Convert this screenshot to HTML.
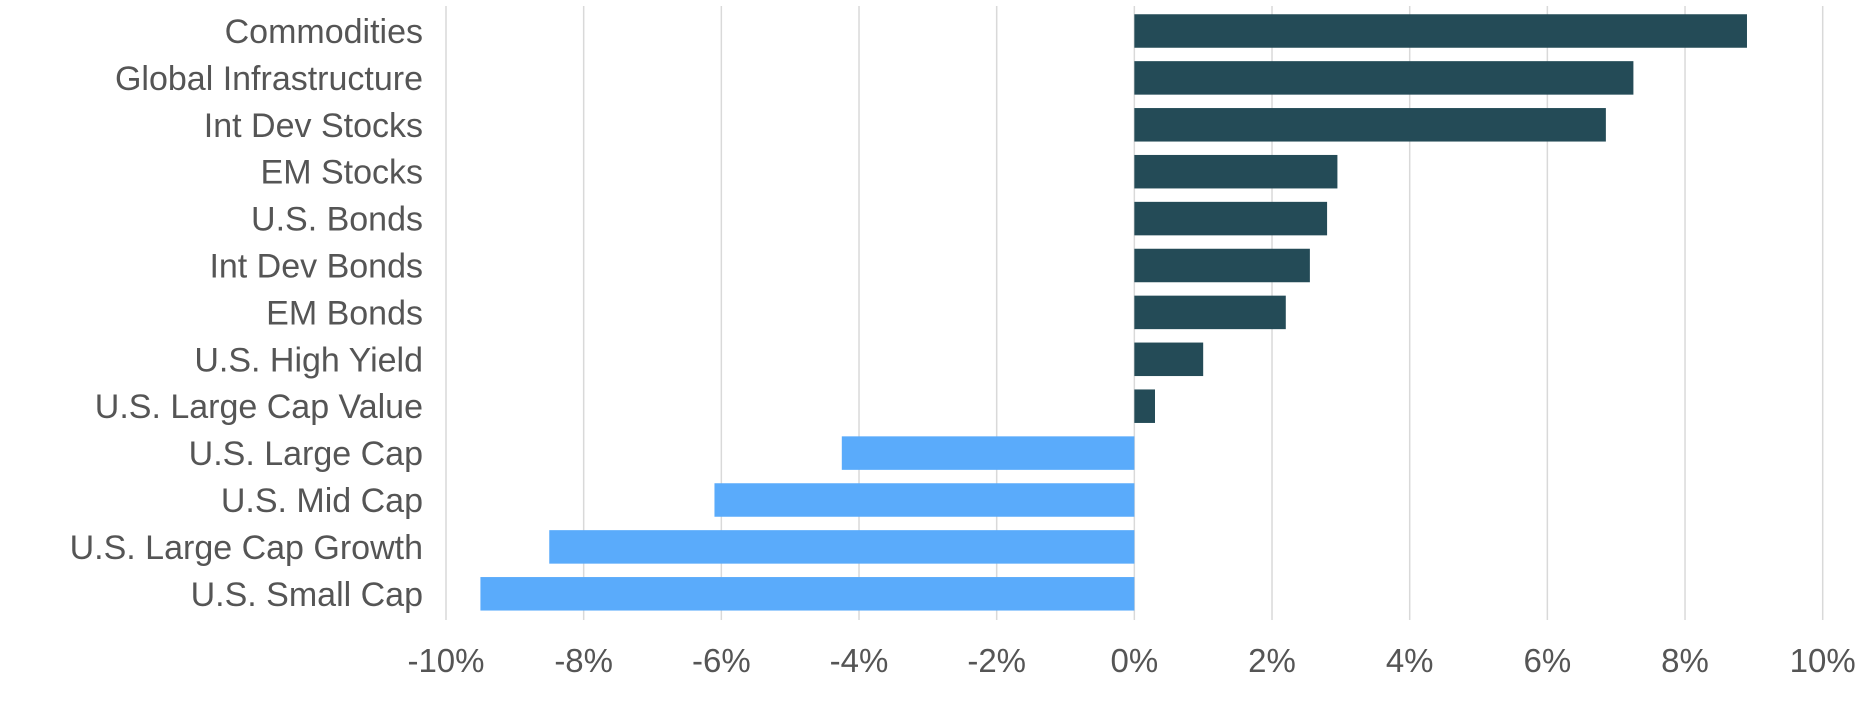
<!DOCTYPE html>
<html><head><meta charset="utf-8">
<style>
html,body{margin:0;padding:0;background:#fff;}
svg{display:block;}
text{font-family:"Liberation Sans",sans-serif;fill:#555;}
</style></head>
<body>
<svg id="chart" width="1875" height="710" viewBox="0 0 1875 710" xmlns="http://www.w3.org/2000/svg">
<g id="grid"></g>
<g id="bars"></g>
<g id="ylabels"></g>
<g id="xlabels"></g>
</svg>
<script>
const categories = ["Commodities","Global Infrastructure","Int Dev Stocks","EM Stocks","U.S. Bonds","Int Dev Bonds","EM Bonds","U.S. High Yield","U.S. Large Cap Value","U.S. Large Cap","U.S. Mid Cap","U.S. Large Cap Growth","U.S. Small Cap"];
const values = [8.9,7.25,6.85,2.95,2.8,2.55,2.2,1.0,0.3,-4.25,-6.1,-8.5,-9.5];
const ticks = [-10,-8,-6,-4,-2,0,2,4,6,8,10];
const tickLabels = ["-10%","-8%","-6%","-4%","-2%","0%","2%","4%","6%","8%","10%"];

const NS="http://www.w3.org/2000/svg";
const x0=446, x1=1822.7, minV=-10, maxV=10;
const xs=v=>x0+(v-minV)/(maxV-minV)*(x1-x0);
const rowTop=31, rowStep=46.9, barH=33.5;
const ys=i=>rowTop+i*rowStep;
function mk(tag,attrs,parent){const e=document.createElementNS(NS,tag);for(const k in attrs)e.setAttribute(k,attrs[k]);parent.appendChild(e);return e;}
const grid=document.getElementById('grid'),bars=document.getElementById('bars'),yl=document.getElementById('ylabels'),xl=document.getElementById('xlabels');
ticks.forEach((t,i)=>{
  const l=mk('line',{x1:xs(t),x2:xs(t),y1:6,y2:620,stroke:'#d9d9d9','stroke-width':1.5},grid);
  
  
  const tx=mk('text',{x:xs(t),y:672,'text-anchor':'middle','font-size':33},xl);
  tx.textContent=tickLabels[i];
  
  
});
categories.forEach((c,i)=>{
  const v=values[i];
  const r=mk('rect',{x:Math.min(xs(0),xs(v)),y:ys(i)-barH/2,width:Math.abs(xs(v)-xs(0)),height:barH,fill:v>=0?'#244b57':'#5aabfb'},bars);
  
  
  const t=mk('text',{x:423,y:ys(i)+12,'text-anchor':'end','font-size':34},yl);
  t.textContent=c;
  
  
});
</script>
</body></html>
